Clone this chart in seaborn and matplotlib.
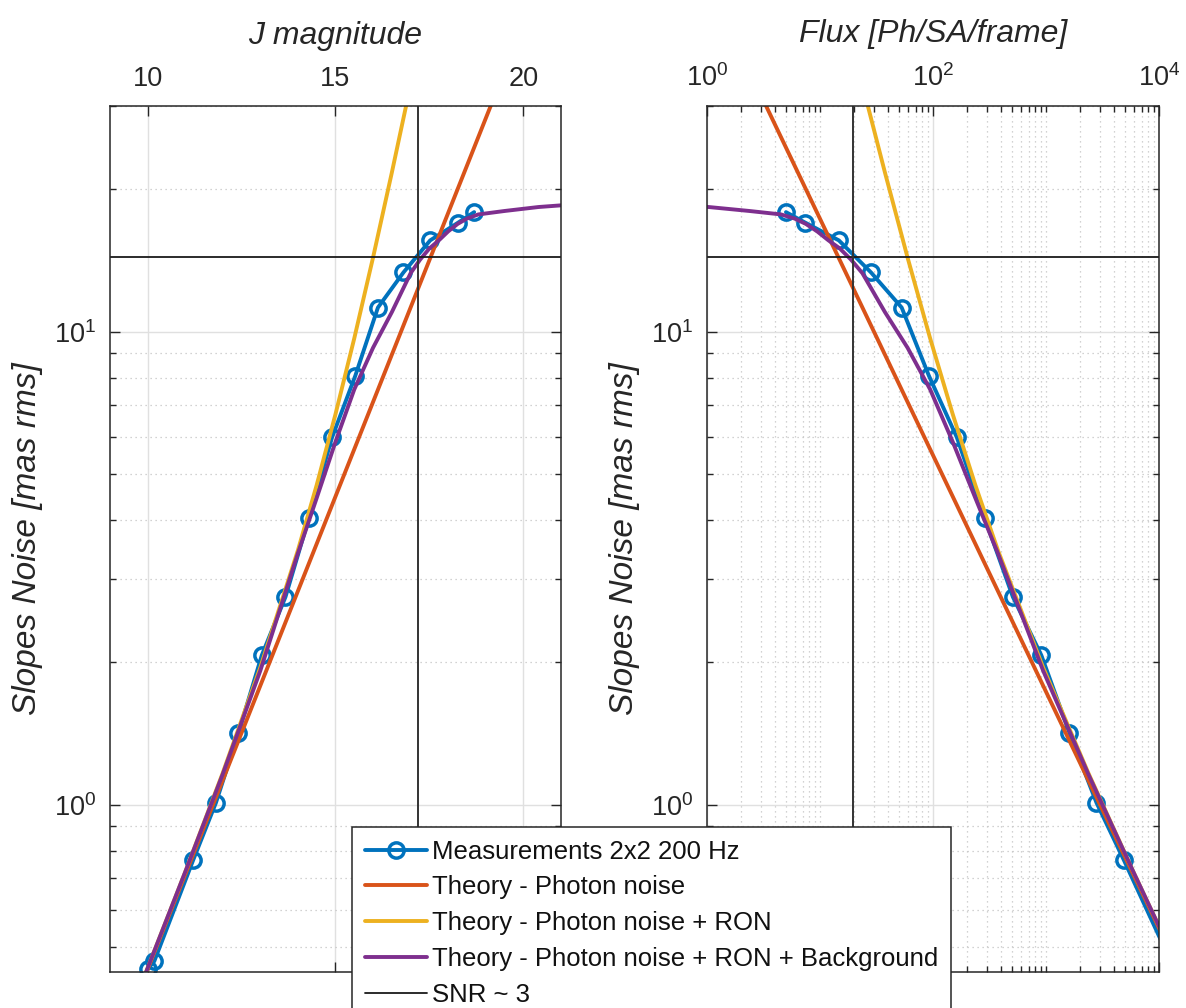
import matplotlib
matplotlib.use("Agg")
import matplotlib.pyplot as plt
import seaborn as sns
from matplotlib.ticker import FixedLocator, LogFormatterSciNotation, NullFormatter

# ---- data ----
# measured slopes noise (mas rms) vs J magnitude
meas_jmag = [10.0, 10.18, 11.22, 11.82, 12.42, 13.04, 13.67, 14.29, 14.91,
             15.53, 16.13, 16.81, 17.52, 18.26, 18.69]
meas_noise = [0.449, 0.467, 0.766, 1.01, 1.42, 2.07, 2.75, 4.03, 5.98,
              8.08, 11.25, 13.35, 15.6, 17.0, 17.9]

# theory - photon noise only (straight line)
ph_jmag = [9.0, 21.0]
ph_noise = [0.283, 71.0]

# theory - photon noise + RON
ron_jmag = [9.0, 10.0, 11.0, 12.0, 13.0, 14.0, 14.5, 15.0, 15.5, 16.0, 16.5, 17.0]
ron_noise = [0.283, 0.451, 0.72, 1.167, 1.95, 3.45, 4.74, 6.69, 9.68, 14.35, 21.7, 33.3]

# theory - photon noise + RON + background
bg_jmag = [9.0, 10.0, 11.0, 12.0, 13.0, 14.0, 14.5, 15.0, 15.5, 16.0, 16.5,
           17.0, 17.25, 17.5, 17.75, 18.0, 18.25, 18.5, 18.8, 19.5, 20.4, 21.0]
bg_noise = [0.283, 0.451, 0.72, 1.16, 1.92, 3.40, 4.45, 5.85, 7.55, 9.25, 11.0,
            13.3, 14.2, 15.0, 15.6, 16.3, 16.9, 17.35, 17.7, 18.0, 18.35, 18.5]

# SNR ~ 3 limits
snr_noise = 14.4
snr_jmag = 17.2

# J magnitude -> flux [ph/SA/frame]: log10(flux) = ZP - 0.4*J
ZP = 8.172


def to_flux(jmag):
    return [10 ** (ZP - 0.4 * j) for j in jmag]


labels = ["Measurements 2x2 200 Hz", "Theory - Photon noise",
          "Theory - Photon noise + RON",
          "Theory - Photon noise + RON + Background", "SNR ~ 3"]

BLUE, ORANGE, YELLOW, PURPLE = "#0072BD", "#D95319", "#EDB120", "#7E2F8E"
TXT = "#262626"

sns.set_theme(style="white")
plt.rcParams['font.family'] = ['Liberation Sans', 'DejaVu Sans']
plt.rcParams['mathtext.fontset'] = 'custom'
plt.rcParams['mathtext.rm'] = 'Liberation Sans'
plt.rcParams['mathtext.default'] = 'regular'

fig = plt.figure(figsize=(11.86, 10.08), dpi=100)
ax1 = fig.add_axes([0.0927, 0.0357, 0.3803, 0.8591])
ax2 = fig.add_axes([0.5964, 0.0357, 0.3811, 0.8591])

y_minor = [0.5, 0.6, 0.7, 0.8, 0.9, 2, 3, 4, 5, 6, 7, 8, 9, 20, 30]


def draw(ax, conv):
    handles = []
    sns.lineplot(x=conv(meas_jmag), y=meas_noise, ax=ax, color=BLUE, lw=2.8,
                 marker='o', markersize=11, markerfacecolor='none',
                 markeredgecolor=BLUE, markeredgewidth=2.5,
                 estimator=None, legend=False)
    handles.append(ax.lines[-1])
    for xs, ys, c in [(ph_jmag, ph_noise, ORANGE), (ron_jmag, ron_noise, YELLOW),
                      (bg_jmag, bg_noise, PURPLE)]:
        sns.lineplot(x=conv(xs), y=ys, ax=ax, color=c, lw=2.8,
                     estimator=None, legend=False)
        handles.append(ax.lines[-1])
    h = ax.axhline(snr_noise, color='#1a1a1a', lw=1.3)
    ax.axvline(conv([snr_jmag])[0], color='#333333', lw=1.4)
    handles.append(h)
    return handles


def style(ax):
    ax.set_yscale('log')
    ax.set_ylim(0.443, 30)
    ax.yaxis.set_major_locator(FixedLocator([1, 10]))
    ax.yaxis.set_minor_locator(FixedLocator(y_minor))
    ax.yaxis.set_major_formatter(LogFormatterSciNotation())
    ax.yaxis.set_minor_formatter(NullFormatter())
    ax.tick_params(which='both', direction='in', top=True, bottom=True,
                   left=True, right=True, labeltop=True, labelbottom=False,
                   labelright=False, color=TXT, labelcolor=TXT,
                   labelsize=19.5, pad=10, width=1.0)
    ax.tick_params(which='major', length=7)
    ax.tick_params(which='minor', length=4)
    ax.grid(which='major', color='#e0e0e0', lw=1.0, ls='-')
    ax.set_axisbelow(True)
    for s in ax.spines.values():
        s.set_color(TXT)
        s.set_linewidth(1.1)
    ax.xaxis.set_label_position('top')
    ax.set_ylabel('Slopes Noise [mas rms]', fontsize=24, style='italic',
                  color=TXT, labelpad=8)


handles = draw(ax1, lambda v: list(v))
style(ax1)
ax1.set_xlim(9, 21)
ax1.xaxis.set_major_locator(FixedLocator([10, 15, 20]))
ax1.grid(which='minor', axis='y', color='#c4c4c4', lw=0.9, ls=(0, (1, 3)))
ax1.set_xlabel('J magnitude', fontsize=23, style='italic', color=TXT, labelpad=16)

ax2.set_xscale('log')
draw(ax2, to_flux)
style(ax2)
ax2.set_xlim(1, 1e4)
ax2.xaxis.set_major_locator(FixedLocator([1, 100, 1e4]))
x_minor = [k * 10 ** d for d in range(4) for k in range(1, 10)
           if k * 10 ** d not in (1, 100)]
ax2.xaxis.set_minor_locator(FixedLocator(x_minor))
ax2.xaxis.set_major_formatter(LogFormatterSciNotation())
ax2.xaxis.set_minor_formatter(NullFormatter())
ax2.grid(which='minor', axis='both', color='#c4c4c4', lw=0.9, ls=(0, (1, 3)))
ax2.set_xlabel('Flux [Ph/SA/frame]', fontsize=23, style='italic', color=TXT, labelpad=16)

leg = fig.legend(handles, labels, loc='upper left', bbox_to_anchor=(0.2968, 0.1799),
                 borderaxespad=0, fontsize=18.5, frameon=True, fancybox=False,
                 framealpha=1, edgecolor=TXT, handlelength=2.4, handletextpad=0.2,
                 borderpad=0.5, labelspacing=0.46)
leg.get_frame().set_linewidth(1.1)
for t in leg.get_texts():
    t.set_color('#111111')

fig.savefig('out.png', dpi=100)
